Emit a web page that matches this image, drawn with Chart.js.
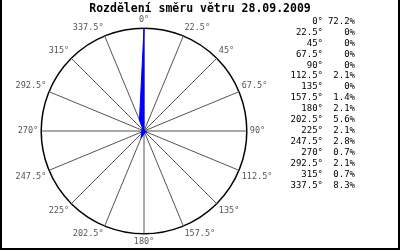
<!DOCTYPE html>
<html>
<head>
<meta charset="utf-8">
<script src="https://cdn.jsdelivr.net/npm/chart.js@4"></script>
<style>
  html, body { margin: 0; padding: 0; background: #fff; }
  #wrap { width: 400px; height: 250px; }
</style>
</head>
<body>
<div id="wrap"><canvas id="ruzice" width="400" height="250"></canvas></div>
<script>
// Data - smery a podil v %
const smery = ["0°", "22.5°", "45°", "67.5°", "90°", "112.5°", "135°", "157.5°",
  "180°", "202.5°", "225°", "247.5°", "270°", "292.5°", "315°", "337.5°"];
const podil = [72.2, 0, 0, 0, 0, 2.1, 0, 1.4, 2.1, 5.6, 2.1, 2.8, 0.7, 2.1, 0.7, 8.3];
const nadpis = "Rozdělení směru větru 28.09.2009";

const maxPodil = Math.max(...podil);

// ramecek + bily podklad
const ramecek = {
  id: "ramecek",
  beforeDraw(chart) {
    const ctx = chart.ctx;
    ctx.save();
    ctx.fillStyle = "#fff";
    ctx.fillRect(0, 0, chart.width, chart.height);
    ctx.fillStyle = "#000";
    ctx.fillRect(0, 0, 2, chart.height);
    ctx.fillRect(chart.width - 2, 0, 2, chart.height);
    ctx.fillRect(0, chart.height - 2, chart.width, 2);
    ctx.restore();
  },
};

// nadpis pres celou sirku + legenda vpravo (smer + procenta)
const legenda = {
  id: "legenda",
  afterDraw(chart) {
    const ctx = chart.ctx;
    ctx.save();
    ctx.fillStyle = "#000";
    ctx.textBaseline = "middle";
    ctx.textAlign = "center";
    ctx.font = 'bold 11.5px "DejaVu Sans Mono"';
    ctx.fillText(nadpis, chart.width / 2, 9);

    ctx.font = '9px "DejaVu Sans Mono"';
    ctx.textAlign = "right";
    smery.forEach((s, i) => {
      const y = 21.5 + i * 10.93;
      ctx.fillText(s, 323, y);
      ctx.fillText(podil[i] + "%", 355, y);
    });
    ctx.restore();
  },
};

new Chart(document.getElementById("ruzice").getContext("2d"), {
  type: "radar",
  data: {
    labels: smery,
    datasets: [
      {
        data: podil,
        backgroundColor: "#0000ff",
        borderColor: "#0000ff",
        borderWidth: 1,
        pointRadius: 0,
        fill: true,
        tension: 0,
      },
    ],
  },
  options: {
    responsive: false,
    animation: false,
    layout: { padding: { left: 9, right: 119, top: 15, bottom: 2 } },
    plugins: {
      legend: { display: false },
      tooltip: { enabled: false },
      title: { display: false },
    },
    scales: {
      r: {
        min: 0,
        max: maxPodil,
        ticks: { display: false, stepSize: maxPodil },
        grid: { circular: true, color: "#000", lineWidth: 1.5 },
        angleLines: { color: "#555", lineWidth: 1 },
        pointLabels: {
          color: "#555",
          padding: 3,
          font: { family: "DejaVu Sans Mono", size: 8.5 },
        },
      },
    },
  },
  plugins: [ramecek, legenda],
});
</script>
</body>
</html>
